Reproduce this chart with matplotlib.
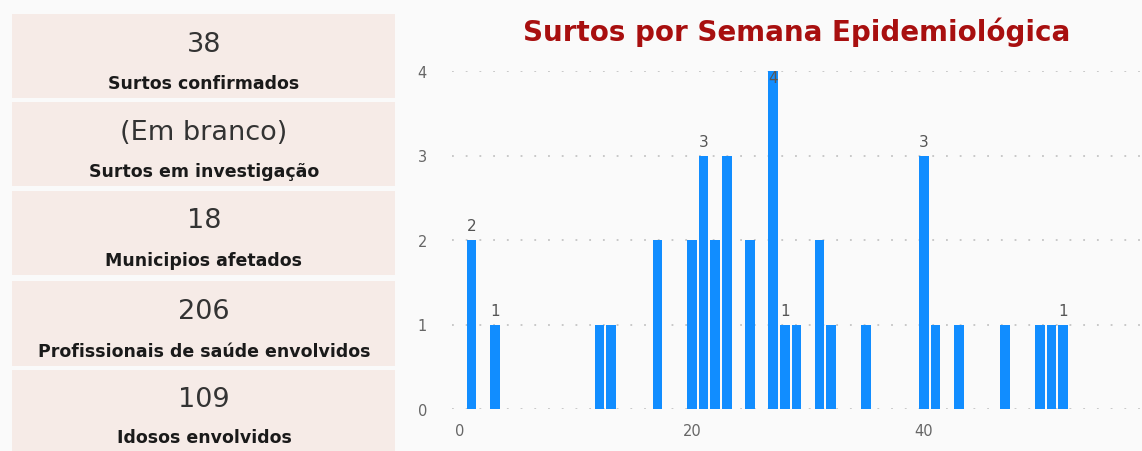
import matplotlib
matplotlib.use("Agg")
import matplotlib.pyplot as plt
from matplotlib.patches import Rectangle

# KPI cards on the left
card_values = ["38", "(Em branco)", "18", "206", "109"]
card_labels = ["Surtos confirmados", "Surtos em investigação", "Municipios afetados",
               "Profissionais de saúde envolvidos", "Idosos envolvidos"]

# outbreaks per epidemiological week
weeks  = [1, 3, 12, 13, 17, 20, 21, 22, 23, 25, 27, 28, 29, 31, 32, 35, 40, 41, 43, 47, 50, 51, 52]
surtos = [2, 1, 1, 1, 2, 2, 3, 2, 3, 2, 4, 1, 1, 2, 1, 1, 3, 1, 1, 1, 1, 1, 1]
labelled_weeks = [1, 3, 21, 27, 28, 40, 52]

W, H = 1142, 452
fig = plt.figure(figsize=(W / 100, H / 100), dpi=100, facecolor='#FAFAFA')

# card boxes (pixel top, bottom)
card_rows = [(15, 99), (103, 187), (192, 276), (282, 367), (371, 452)]
val_y = [45, 133, 221, 312, 400]
lab_y = [84, 172, 261, 352, 438]
for (top, bot), v, l, vy, ly in zip(card_rows, card_values, card_labels, val_y, lab_y):
    fig.patches.append(Rectangle((12 / W, 1 - bot / H), (395 - 12) / W, (bot - top) / H,
                                 transform=fig.transFigure, facecolor='#F6EBE7',
                                 edgecolor='none', zorder=0))
    fig.text(204 / W, 1 - vy / H, v, ha='center', va='center', fontsize=19.5,
             color='#333333')
    fig.text(204 / W, 1 - ly / H, l, ha='center', va='center', fontsize=12.5,
             fontweight='bold', color='#1a1a1a')

ax = fig.add_axes([452 / W, 42 / H, (W - 452) / W, (410 - 72) / H])
ax.set_facecolor('none')
ax.bar(weeks, surtos, width=0.82, color='#118DFF', zorder=3)

for w, s in zip(weeks, surtos):
    if w in labelled_weeks:
        if s >= 4:
            # no room above the axis top, Power BI puts it on the bar
            ax.annotate(str(s), (w, s), xytext=(0, 1), textcoords='offset points',
                        ha='center', va='top', fontsize=11, color='#555555', zorder=4)
        else:
            ax.annotate(str(s), (w, s), xytext=(0, 5), textcoords='offset points',
                        ha='center', va='bottom', fontsize=11, color='#555555', zorder=4)

ax.set_xlim(-0.7, 58.8)
ax.set_ylim(0, 4)
ax.set_xticks([0, 20, 40])
ax.set_yticks([0, 1, 2, 3, 4])
ax.tick_params(length=0, labelsize=10.5, labelcolor='#666666')
ax.tick_params(axis='y', pad=18)
ax.tick_params(axis='x', pad=10)
ax.grid(axis='y', color='#C4C4C4', linestyle=(0, (1, 6.6)), linewidth=1.3, zorder=0)
for sp in ax.spines.values():
    sp.set_visible(False)

fig.text(797 / W, 1 - 32 / H, 'Surtos por Semana Epidemiológica', ha='center',
         va='center', fontsize=20, fontweight='bold', color='#A80F0F')

fig.savefig('out.png', dpi=100, facecolor=fig.get_facecolor())
